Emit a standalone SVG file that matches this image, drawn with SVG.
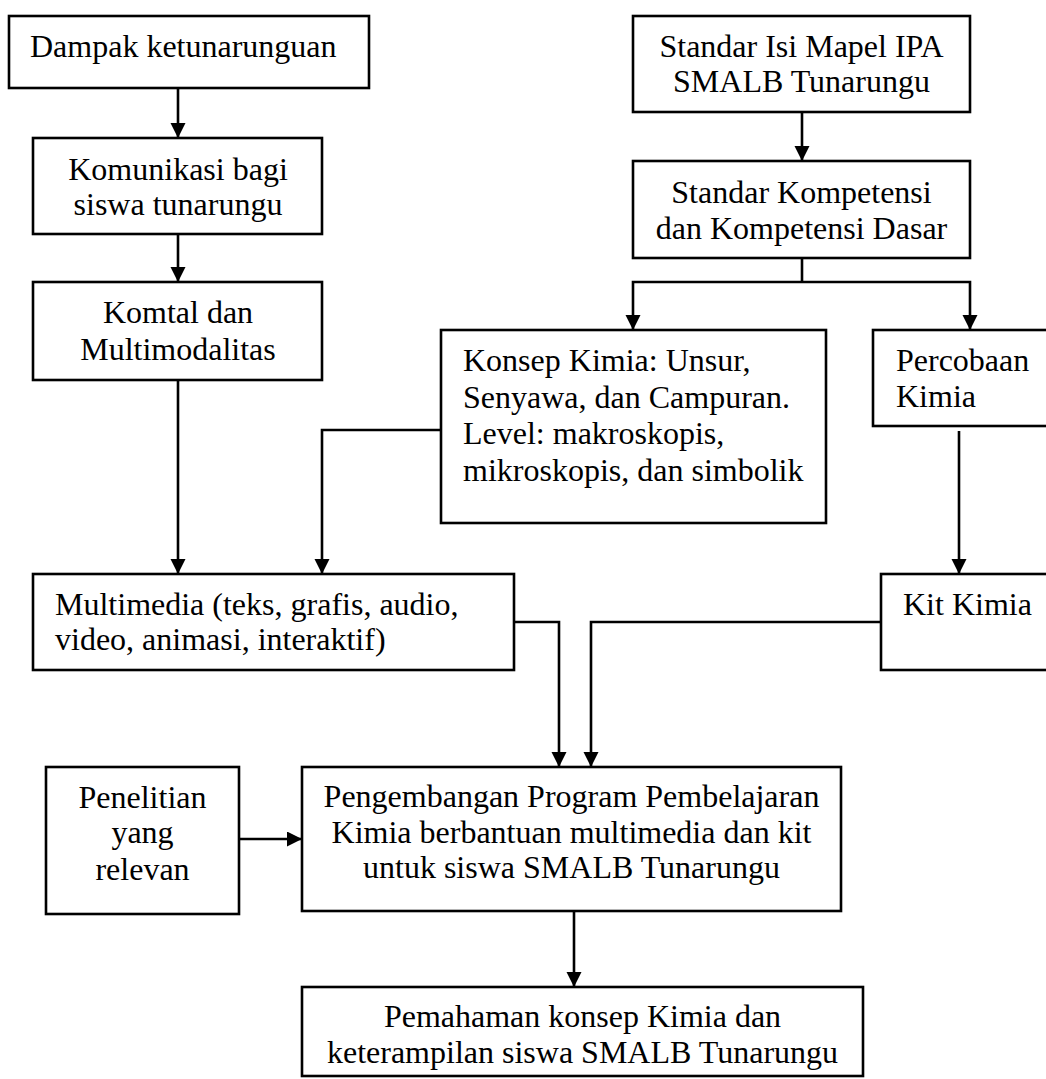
<svg xmlns="http://www.w3.org/2000/svg" width="1046" height="1079" viewBox="0 0 1046 1079">
  <defs>
    <marker id="arr" markerUnits="userSpaceOnUse" markerWidth="16" markerHeight="16" refX="15" refY="7.5" orient="auto">
      <path d="M0,0 L15,7.5 L0,15 z" fill="#000"/>
    </marker>
  </defs>
  <style>
    .box { fill: #fff; stroke: #000; stroke-width: 2.6; }
    .t { font-family: "Liberation Serif", "Times New Roman", serif; font-size: 32px; fill: #000; }
    .c { text-anchor: middle; }
    .conn path { fill: none; stroke: #000; stroke-width: 2.6; }
    .conn path.a { marker-end: url(#arr); }
  </style>
  <rect width="1046" height="1079" fill="#fff"/>

  <g id="connectors" class="conn">
    <path class="a" d="M178,88 V138"/>
    <path class="a" d="M178,234 V282"/>
    <path class="a" d="M178,380 V574"/>
    <path class="a" d="M802,112 V161"/>
    <path d="M802,258 V282"/>
    <path class="a" d="M802,282 H633 V330"/>
    <path class="a" d="M802,282 H970 V330"/>
    <path class="a" d="M441,430 H322 V574"/>
    <path class="a" d="M959,431 V574"/>
    <path class="a" d="M514,622 H559 V767"/>
    <path class="a" d="M881,622 H591 V767"/>
    <path class="a" d="M239,839 H302"/>
    <path class="a" d="M574,911 V987"/>
  </g>

  <g id="dampak">
    <rect class="box" x="9" y="16" width="360" height="72"/>
    <text class="t" x="30" y="57">Dampak ketunarunguan</text>
  </g>
  <g id="komunikasi">
    <rect class="box" x="33" y="138" width="289" height="96"/>
    <text class="t c" x="178" y="180">Komunikasi bagi</text>
    <text class="t c" x="178" y="215">siswa tunarungu</text>
  </g>
  <g id="komtal">
    <rect class="box" x="33" y="282" width="289" height="98"/>
    <text class="t c" x="178" y="323">Komtal dan</text>
    <text class="t c" x="178" y="360">Multimodalitas</text>
  </g>
  <g id="standar-isi">
    <rect class="box" x="633" y="16" width="337" height="96"/>
    <text class="t c" x="801.5" y="57">Standar Isi Mapel IPA</text>
    <text class="t c" x="801.5" y="92">SMALB Tunarungu</text>
  </g>
  <g id="standar-kompetensi">
    <rect class="box" x="633" y="161" width="337" height="97"/>
    <text class="t c" x="801.5" y="203">Standar Kompetensi</text>
    <text class="t c" x="801.5" y="239">dan Kompetensi Dasar</text>
  </g>
  <g id="konsep">
    <rect class="box" x="441" y="330" width="385" height="193"/>
    <text class="t" x="463" y="371">Konsep Kimia: Unsur,</text>
    <text class="t" x="463" y="407.5">Senyawa, dan Campuran.</text>
    <text class="t" x="463" y="444">Level: makroskopis,</text>
    <text class="t" x="463" y="480.5">mikroskopis, dan simbolik</text>
  </g>
  <g id="percobaan">
    <rect class="box" x="873" y="330" width="190" height="96"/>
    <text class="t" x="896" y="371">Percobaan</text>
    <text class="t" x="896" y="407">Kimia</text>
  </g>
  <g id="multimedia">
    <rect class="box" x="33" y="574" width="481" height="96"/>
    <text class="t" x="55" y="615">Multimedia (teks, grafis, audio,</text>
    <text class="t" x="55" y="650">video, animasi, interaktif)</text>
  </g>
  <g id="kit">
    <rect class="box" x="881" y="574" width="182" height="96"/>
    <text class="t" x="903" y="615">Kit Kimia</text>
  </g>
  <g id="penelitian">
    <rect class="box" x="46" y="767" width="193" height="147"/>
    <text class="t c" x="142.5" y="808">Penelitian</text>
    <text class="t c" x="142.5" y="843">yang</text>
    <text class="t c" x="142.5" y="880">relevan</text>
  </g>
  <g id="pengembangan">
    <rect class="box" x="302" y="767" width="539" height="144"/>
    <text class="t c" x="571.5" y="807">Pengembangan Program Pembelajaran</text>
    <text class="t c" x="571.5" y="843">Kimia berbantuan multimedia dan kit</text>
    <text class="t c" x="571.5" y="878">untuk siswa SMALB Tunarungu</text>
  </g>
  <g id="pemahaman">
    <rect class="box" x="302" y="987" width="561" height="89"/>
    <text class="t c" x="582.5" y="1027">Pemahaman konsep Kimia dan</text>
    <text class="t c" x="582.5" y="1063">keterampilan siswa SMALB Tunarungu</text>
  </g>
</svg>
